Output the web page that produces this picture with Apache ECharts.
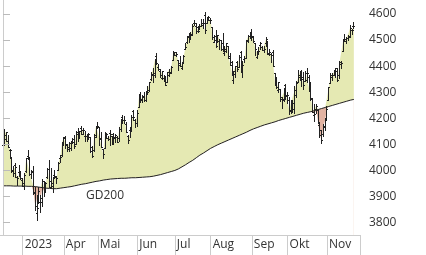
<!DOCTYPE html>
<html><head><meta charset="utf-8">
<script src="https://cdn.jsdelivr.net/npm/echarts@6/dist/echarts.min.js"></script>
<style>html,body{margin:0;padding:0;background:#fff}#c{width:426px;height:255px}</style>
</head><body><div id="c"></div>
<script>
const dates = [
'2023-02-13','2023-02-14','2023-02-15','2023-02-16','2023-02-17','2023-02-21','2023-02-22','2023-02-23','2023-02-24','2023-02-27','2023-02-28',
'2023-03-01','2023-03-02','2023-03-03','2023-03-06','2023-03-07','2023-03-08','2023-03-09','2023-03-10','2023-03-13','2023-03-14','2023-03-15','2023-03-16','2023-03-17','2023-03-20','2023-03-21','2023-03-22','2023-03-23','2023-03-24','2023-03-27','2023-03-28','2023-03-29','2023-03-30','2023-03-31',
'2023-04-03','2023-04-04','2023-04-05','2023-04-06','2023-04-10','2023-04-11','2023-04-12','2023-04-13','2023-04-14','2023-04-17','2023-04-18','2023-04-19','2023-04-20','2023-04-21','2023-04-24','2023-04-25','2023-04-26','2023-04-27','2023-04-28',
'2023-05-01','2023-05-02','2023-05-03','2023-05-04','2023-05-05','2023-05-08','2023-05-09','2023-05-10','2023-05-11','2023-05-12','2023-05-15','2023-05-16','2023-05-17','2023-05-18','2023-05-19','2023-05-22','2023-05-23','2023-05-24','2023-05-25','2023-05-26','2023-05-30','2023-05-31',
'2023-06-01','2023-06-02','2023-06-05','2023-06-06','2023-06-07','2023-06-08','2023-06-09','2023-06-12','2023-06-13','2023-06-14','2023-06-15','2023-06-16','2023-06-20','2023-06-21','2023-06-22','2023-06-23','2023-06-26','2023-06-27','2023-06-28','2023-06-29','2023-06-30',
'2023-07-03','2023-07-05','2023-07-06','2023-07-07','2023-07-10','2023-07-11','2023-07-12','2023-07-13','2023-07-14','2023-07-17','2023-07-18','2023-07-19','2023-07-20','2023-07-21','2023-07-24','2023-07-25','2023-07-26','2023-07-27','2023-07-28','2023-07-31',
'2023-08-01','2023-08-02','2023-08-03','2023-08-04','2023-08-07','2023-08-08','2023-08-09','2023-08-10','2023-08-11','2023-08-14','2023-08-15','2023-08-16','2023-08-17','2023-08-18','2023-08-21','2023-08-22','2023-08-23','2023-08-24','2023-08-25','2023-08-28','2023-08-29','2023-08-30','2023-08-31',
'2023-09-01','2023-09-05','2023-09-06','2023-09-07','2023-09-08','2023-09-11','2023-09-12','2023-09-13','2023-09-14','2023-09-15','2023-09-18','2023-09-19','2023-09-20','2023-09-21','2023-09-22','2023-09-25','2023-09-26','2023-09-27','2023-09-28','2023-09-29',
'2023-10-02','2023-10-03','2023-10-04','2023-10-05','2023-10-06','2023-10-09','2023-10-10','2023-10-11','2023-10-12','2023-10-13','2023-10-16','2023-10-17','2023-10-18','2023-10-19','2023-10-20','2023-10-23','2023-10-24','2023-10-25','2023-10-26','2023-10-27','2023-10-30','2023-10-31',
'2023-11-01','2023-11-02','2023-11-03','2023-11-06','2023-11-07','2023-11-08','2023-11-09','2023-11-10','2023-11-13','2023-11-14','2023-11-15','2023-11-16','2023-11-17','2023-11-20','2023-11-21','2023-11-22'
];
const opens = [
4096,4127,4120,4114,4077,4052,4001,4019,3973,3992,3977,
3964,3938,3998,4055,4048,3987,3998,3912,3835,3894,3876,3879,3959,3917,3975,4003,3960,3939,3982,3975,3999,4046,4057,
4103,4129,4095,4081,4086,4111,4121,4100,4140,4137,4164,4140,4131,4132,4133,4126,4088,4076,4129,
4166,4165,4123,4082,4084,4136,4124,4144,4132,4139,4127,4128,4123,4158,4204,4191,4177,4133,4156,4156,4226,4191,
4183,4241,4282,4271,4285,4268,4304,4308,4352,4366,4366,4440,4398,4382,4355,4354,4345,4338,4367,4375,4422,
4451,4442,4423,4404,4394,4415,4467,4492,4514,4508,4521,4566,4554,4550,4543,4555,4559,4598,4565,4585,
4578,4550,4494,4514,4492,4498,4502,4487,4450,4459,4478,4433,4417,4345,4380,4416,4397,4455,4389,4426,4433,4500,4517,
4530,4511,4490,4434,4452,4480,4473,4462,4487,4497,4445,4446,4453,4374,4342,4310,4313,4282,4269,4329,
4284,4270,4233,4259,4235,4289,4339,4366,4380,4360,4342,4345,4357,4321,4274,4211,4235,4232,4175,4153,4140,4171,
4201,4269,4334,4364,4366,4384,4392,4365,4407,4458,4505,4497,4509,4511,4539,4553
];
const highs = [
4138,4159,4148,4136,4081,4052,4017,4029,3979,4019,3997,
3971,3991,4048,4078,4050,4000,4018,3934,3905,3937,3903,3965,3959,3956,4009,4039,4007,3973,4002,3979,4030,4057,4110,
4127,4133,4100,4107,4110,4125,4135,4150,4164,4152,4169,4163,4149,4138,4142,4126,4092,4140,4170,
4186,4165,4148,4083,4147,4143,4130,4154,4132,4143,4141,4132,4165,4198,4213,4210,4186,4134,4165,4213,4231,4195,
4232,4291,4300,4289,4299,4299,4323,4340,4376,4391,4429,4449,4408,4387,4382,4367,4363,4379,4390,4399,4458,
4456,4454,4423,4440,4412,4443,4488,4517,4528,4532,4562,4578,4564,4556,4563,4581,4582,4607,4590,4594,
4584,4551,4519,4540,4520,4503,4502,4527,4476,4490,4479,4449,4421,4381,4401,4418,4443,4458,4418,4440,4500,4521,4532,
4541,4516,4490,4457,4473,4491,4478,4479,4511,4497,4466,4451,4461,4375,4357,4338,4313,4282,4317,4333,
4300,4281,4268,4268,4324,4341,4385,4378,4385,4377,4383,4393,4364,4339,4276,4255,4255,4233,4184,4156,4177,4195,
4245,4319,4374,4372,4386,4391,4393,4418,4421,4503,4522,4511,4521,4557,4542,4568
];
const lows = [
4093,4096,4114,4089,4048,3995,3976,3972,3944,3977,3968,
3939,3928,3995,4044,3981,3969,3908,3847,3809,3874,3838,3864,3901,3916,3971,3936,3933,3917,3971,3951,3999,4032,4056,
4098,4086,4073,4075,4076,4103,4086,4100,4113,4124,4140,4139,4114,4113,4118,4071,4049,4073,4128,
4163,4098,4088,4048,4084,4124,4116,4098,4099,4099,4110,4109,4113,4150,4180,4180,4145,4103,4129,4154,4193,4166,
4171,4241,4262,4263,4265,4266,4293,4305,4346,4338,4357,4407,4384,4360,4352,4341,4328,4338,4361,4372,4422,
4442,4437,4385,4399,4390,4412,4464,4489,4493,4504,4519,4557,4527,4532,4541,4554,4548,4528,4564,4578,
4567,4505,4491,4475,4491,4465,4461,4458,4443,4454,4432,4404,4364,4335,4360,4383,4397,4376,4357,4415,4431,4494,4507,
4501,4492,4442,4431,4448,4467,4461,4453,4478,4447,4442,4416,4402,4329,4317,4302,4265,4238,4265,4274,
4260,4217,4220,4225,4220,4283,4339,4346,4325,4312,4342,4338,4304,4270,4223,4190,4220,4181,4128,4103,4133,4154,
4197,4269,4334,4347,4365,4360,4343,4353,4394,4458,4495,4487,4500,4511,4525,4546
];
const closes = [
4137,4136,4148,4090,4079,3997,3991,4012,3970,3982,3970,
3951,3981,4046,4048,3986,3992,3918,3862,3855,3920,3892,3960,3917,3951,4003,3937,3949,3971,3977,3971,4028,4051,4109,
4125,4101,4091,4105,4110,4108,4092,4146,4138,4151,4155,4155,4130,4133,4138,4072,4056,4136,4169,
4168,4120,4091,4061,4136,4138,4119,4138,4131,4124,4136,4110,4159,4198,4192,4192,4146,4116,4151,4205,4206,4180,
4221,4282,4273,4283,4268,4294,4299,4338,4369,4373,4426,4410,4389,4366,4382,4348,4328,4378,4376,4396,4450,
4455,4447,4412,4399,4410,4440,4472,4510,4505,4523,4555,4566,4535,4536,4555,4567,4566,4537,4582,4589,
4577,4513,4502,4478,4518,4499,4467,4469,4464,4490,4437,4404,4370,4370,4400,4388,4436,4376,4406,4433,4498,4515,4508,
4516,4497,4465,4451,4457,4487,4462,4467,4505,4450,4454,4444,4402,4330,4320,4337,4274,4275,4300,4288,
4288,4229,4263,4258,4308,4336,4358,4377,4349,4327,4373,4373,4314,4278,4224,4217,4248,4186,4137,4117,4167,4194,
4237,4318,4358,4366,4378,4383,4347,4415,4412,4496,4503,4508,4514,4547,4538,4556
];
const gd200 = [
3940,3940,3940,3940,3940,3940,3939,3939,3939,3939,3939,3939,3939,3938,3938,3938,3938,3938,
3937,3936,3935,3934,3933,3932,3931,3930,3930,3929,3929,3928,
3929,3930,3931,3932,3933,3934,3935,3936,3937,3938,3940,
3941,3943,3944,3946,3947,3948,3950,3951,3953,3954,3955,3957,3958,3959,3960,3962,3963,3964,3966,
3966,3967,3967,3968,3968,3968,3969,3969,3969,3970,3970,3970,3971,3971,3971,3972,3972,3972,3973,3973,3974,3974,3975,
3976,3977,3978,3980,3981,3983,3985,3987,3989,3991,3993,3995,3997,3999,4002,
4005,4009,4013,4017,4021,4025,4030,4034,4038,4043,4048,4053,4058,
4062,4066,4071,4075,4079,4084,4088,
4091,4094,4098,4101,4104,4107,4110,4113,4116,4119,4122,4125,4128,4131,4134,4137,4140,4143,4146,4149,4153,4156,4159,4162,
4164,4167,4169,4171,4174,4176,4178,4180,4182,4184,4186,4188,4191,4193,
4195,4197,4199,4201,4203,4205,4207,4209,4211,4213,4215,4217,4219,4220,4222,4224,4225,4227,
4229,4231,4233,4235,4237,4239,4241,4243,4245,4247,4249,4251,4253,4255,4257,4259,4261,4263,4265,4267,4269,4270,4272
];
const xTickLabels = ['2023','Apr','Mai','Jun','Jul','Aug','Sep','Okt','Nov'];
const yTickValues = [3800,3900,4000,4100,4200,4300,4400,4500,4600];
const maLabel = 'GD200';

// first trading day of each month (from Mar on)
const monthStarts = [];
for (let i = 1; i < dates.length; i++) {
  if (dates[i].slice(5, 7) !== dates[i - 1].slice(5, 7)) monthStarts.push(i);
}
const X_MIN = -1.676, X_MAX = 199.44;
const FONT = '"Open Sans", "Noto Sans", sans-serif';
const YELLOW = '#e5e9b3', RED = '#e2b3a2', INK = '#222';

const upper = closes.map((c, i) => [i, Math.max(c, gd200[i])]);
const lower = closes.map((c, i) => [i, Math.min(c, gd200[i])]);
const maPts = gd200.map((v, i) => [i, v]);
const ohlc = dates.map((d, i) => [i, opens[i], highs[i], lows[i], closes[i]]);

const areaSeries = (data, color, z) => ({
  type: 'line', data, z, silent: true, symbol: 'none', showSymbol: false,
  lineStyle: { width: 0, opacity: 0 },
  areaStyle: { color, opacity: 1, origin: 'start' },
  animation: false
});

const chart = echarts.init(document.getElementById('c'), null, { renderer: 'canvas' });
chart.setOption({
  animation: false,
  backgroundColor: '#fff',
  grid: { left: 0, right: 66, top: 0, bottom: 20, containLabel: false },
  xAxis: {
    type: 'value', min: X_MIN, max: X_MAX, z: 20,
    axisLine: { show: true, lineStyle: { color: '#cccccc', width: 1 } },
    axisTick: { show: true, customValues: monthStarts.concat([X_MAX]), length: 20, inside: false,
      lineStyle: { color: '#cccccc', width: 1 } },
    axisLabel: {
      show: true, customValues: monthStarts,
      formatter: v => xTickLabels[monthStarts.indexOf(Math.round(v))] || '',
      align: 'left', verticalAlign: 'middle', lineHeight: 12, margin: 10, padding: [0, 0, 0, 2],
      color: '#333', fontSize: 12, fontFamily: FONT
    },
    splitLine: { show: false }
  },
  yAxis: {
    type: 'value', position: 'right', min: 3751, max: 4654, z: 20,
    axisLine: { show: true, lineStyle: { color: '#cccccc', width: 1 } },
    axisTick: { show: true, customValues: yTickValues, length: 7, lineStyle: { color: '#bbbbbb' } },
    axisLabel: { show: true, customValues: yTickValues, margin: 9, align: 'left',
      formatter: v => String(Math.round(v)),
      color: '#333', fontSize: 12, fontFamily: FONT },
    splitLine: { show: false }
  },
  graphic: [{
    type: 'text', left: 86, top: 190, z: 50,
    style: { text: maLabel, fill: '#333', font: '12px ' + FONT }
  }],
  series: [
    areaSeries(upper, YELLOW, 1),
    areaSeries(maPts, RED, 2),
    areaSeries(lower, '#ffffff', 3),
    {
      type: 'line', data: maPts, z: 4, symbol: 'none', showSymbol: false, silent: true,
      lineStyle: { color: INK, width: 1 }, animation: false
    },
    {
      type: 'custom', z: 5, silent: true, data: ohlc,
      encode: { x: 0, y: [1, 2, 3, 4] },
      renderItem: function (params, api) {
        const i = api.value(0);
        const pO = api.coord([i, api.value(1)]);
        const pH = api.coord([i, api.value(2)]);
        const pL = api.coord([i, api.value(3)]);
        const pC = api.coord([i, api.value(4)]);
        const px = Math.floor(pH[0]);
        const yh = Math.round(pH[1]), yl = Math.round(pL[1]);
        const yo = Math.round(pO[1]), yc = Math.round(pC[1]);
        const st = { fill: INK };
        return {
          type: 'group', children: [
            { type: 'rect', shape: { x: px, y: yh, width: 1, height: Math.max(1, yl - yh + 1) }, style: st },
            { type: 'rect', shape: { x: px - 1, y: yo, width: 1, height: 1 }, style: st },
            { type: 'rect', shape: { x: px + 1, y: yc, width: 1, height: 1 }, style: st }
          ]
        };
      },
      animation: false
    }
  ]
});
</script>
</body></html>
